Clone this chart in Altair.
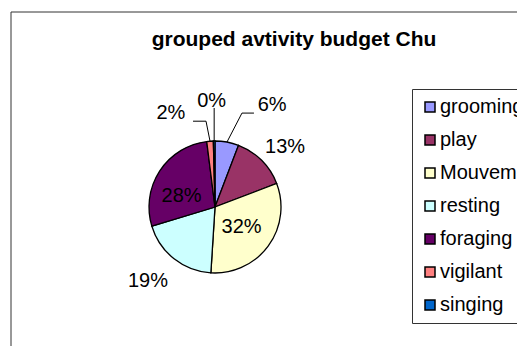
import math
import altair as alt
import pandas as pd

# ---- data ----
CATEGORIES = ["grooming", "play", "Mouvement", "resting", "foraging", "vigilant", "singing"]
VALUES = [5.8, 13.4, 31.8, 19.3, 27.7, 1.6, 0.4]
COLORS = ["#9999FF", "#993366", "#FFFFCC", "#CCFFFF", "#660066", "#FF8080", "#0066CC"]
TITLE = "grouped avtivity budget Chu"

df = pd.DataFrame({"category": CATEGORIES, "value": VALUES, "order": list(range(len(CATEGORIES)))})

# ---- layout / style ----
W, H = 509, 338
CX, CY, R = 207, 199, 66
FONT = "Liberation Sans"
TWO_PI = 2 * math.pi

# label placement: radius, dx, dy
LABEL_LAYOUT = {
    "grooming": (100, 39, -4),
    "play": (92, 5, 5),
    "Mouvement": (33, 0, 0),
    "resting": (100, -5, -4),
    "foraging": (35, -4, 8),
    "vigilant": (95, -37, 1),
    "singing": (106, -2, 0),
}
# leader lines: elbow offset from slice edge (ox, oy), horizontal run h
LEADERS = {
    "grooming": (15, -29, 12),
    "vigilant": (-4, -20, -13),
    "singing": (0, -33, 0),
}

theta_scale = alt.Scale(domain=[0, 100], range=[0, TWO_PI])

base = alt.Chart(df).transform_joinaggregate(
    total="sum(value)"
).transform_window(
    cum="sum(value)", sort=[alt.SortField("order")], frame=[None, 0]
).transform_calculate(
    start="(datum.cum - datum.value) / datum.total * 100",
    stop="datum.cum / datum.total * 100",
    mid="(datum.cum - datum.value / 2) / datum.total * 100",
    label="format(round(datum.value / datum.total * 100), 'd') + '%'",
)

one = alt.Chart(pd.DataFrame({"a": [0]}))

border = one.mark_rect(fillOpacity=0, stroke="#333", strokeWidth=1).encode(
    x=alt.value(3), y=alt.value(4), x2=alt.value(800), y2=alt.value(800)
)

arcs = base.mark_arc(outerRadius=R, stroke="black", strokeWidth=1.3).encode(
    theta=alt.Theta("start:Q", scale=theta_scale, stack=None),
    theta2="stop:Q",
    color=alt.Color(
        "category:N",
        scale=alt.Scale(domain=CATEGORIES, range=COLORS),
        sort=CATEGORIES,
        legend=alt.Legend(
            orient="none", legendX=404, legendY=81, title=None,
            strokeColor="#333", fillColor="white", padding=8, rowPadding=13,
            symbolType="square", symbolSize=100, symbolStrokeColor="black",
            symbolStrokeWidth=1.5, symbolOffset=0, labelOffset=0,
            labelFont=FONT, labelFontSize=20, labelColor="black", labelLimit=400,
        ),
    ),
    x=alt.value(CX), y=alt.value(CY),
)

labels = []
for cat, (rad, dx, dy) in LABEL_LAYOUT.items():
    labels.append(
        base.transform_filter(alt.datum.category == cat).mark_text(
            radius=rad, dx=dx, dy=dy, font=FONT, fontSize=20, color="black",
            align="center", baseline="middle",
        ).encode(
            theta=alt.Theta("mid:Q", scale=theta_scale, stack=None),
            text="label:N",
            x=alt.value(CX), y=alt.value(CY),
        )
    )

leaders = []
for cat, (ox, oy, h) in LEADERS.items():
    lb = base.transform_filter(alt.datum.category == cat).transform_calculate(
        ex=f"{CX} + {R} * sin(datum.mid / 100 * 2 * PI)",
        ey=f"{CY} - {R} * cos(datum.mid / 100 * 2 * PI)",
    ).transform_calculate(
        bx=f"datum.ex + {ox}", by=f"datum.ey + {oy}",
    ).transform_calculate(
        hx=f"datum.bx + {h}",
    )
    leaders.append(lb.mark_rule(color="black", strokeWidth=1).encode(
        x=alt.X("ex:Q", scale=None), y=alt.Y("ey:Q", scale=None),
        x2="bx:Q", y2="by:Q",
    ))
    if h != 0:
        leaders.append(lb.mark_rule(color="black", strokeWidth=1).encode(
            x=alt.X("bx:Q", scale=None), y=alt.Y("by:Q", scale=None),
            x2="hx:Q", y2="by:Q",
        ))

title = one.mark_text(
    text=TITLE, font=FONT, fontSize=21, fontWeight="bold", color="black",
    align="center", baseline="alphabetic",
).encode(x=alt.value(286), y=alt.value(38))

chart = alt.layer(border, arcs, *leaders, *labels, title).properties(
    width=W, height=H, padding=0,
    autosize=alt.AutoSizeParams(type="none"),
).configure_view(stroke=None)

chart.save("out.html", embed_options={"renderer": "svg", "actions": False})
